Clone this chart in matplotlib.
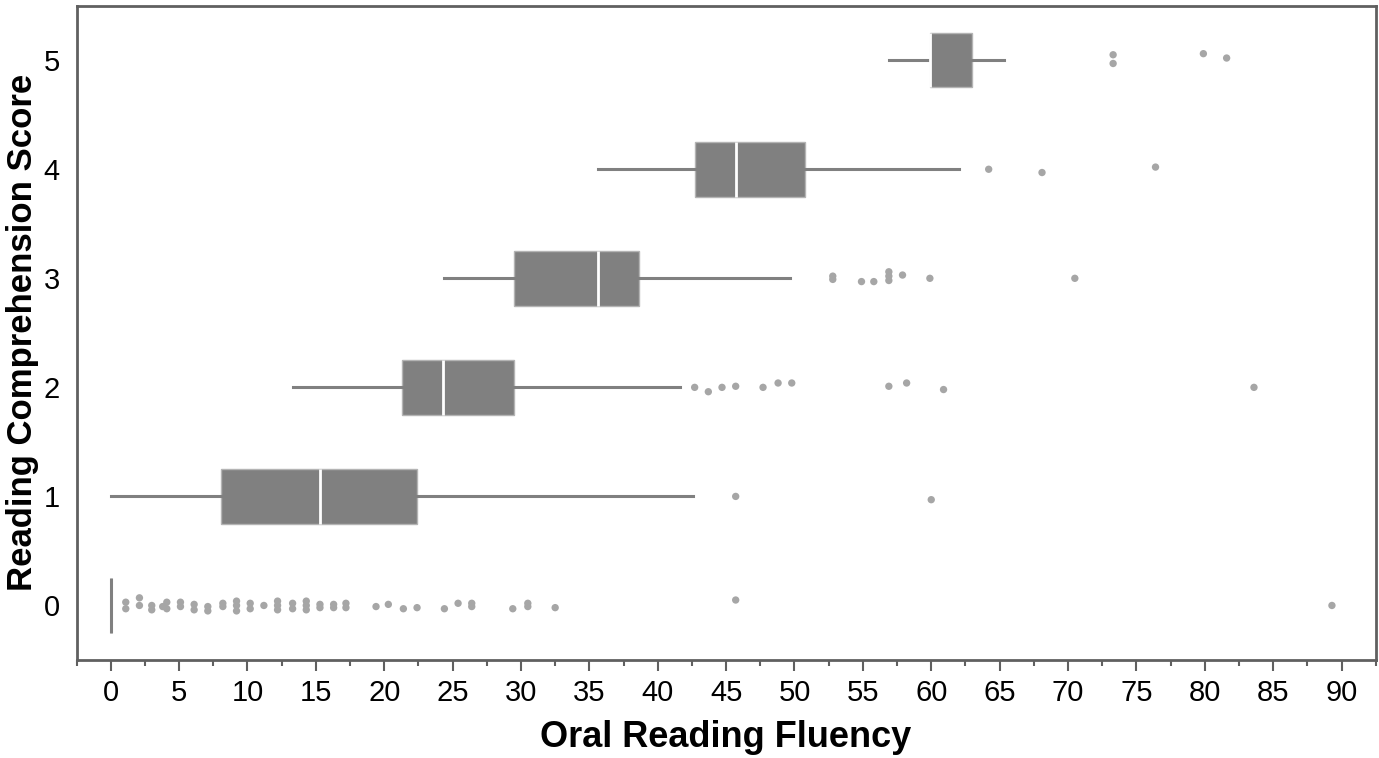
import matplotlib
matplotlib.use("Agg")
import matplotlib.pyplot as plt
from matplotlib.ticker import MultipleLocator

plt.rcParams['font.family'] = ['Liberation Sans', 'DejaVu Sans']

# box statistics per reading comprehension score (0..5)
scores = [0, 1, 2, 3, 4, 5]
whis_lo = [0.0, 0.0, 13.3, 24.4, 35.6, 56.9]
q1 = [0.0, 8.1, 21.3, 29.5, 42.7, 59.9]
median = [0.0, 15.3, 24.3, 35.6, 45.7, 59.9]
q3 = [0.0, 22.4, 29.5, 38.6, 50.8, 63.0]
whis_hi = [0.0, 42.6, 41.6, 49.7, 62.0, 65.3]

# outliers: fluency value and small vertical offset as seen in the picture
out0_x = [1.1, 1.1, 2.1, 2.1, 3.0, 3.0, 3.8, 4.1, 4.1, 5.1, 5.1, 6.1, 6.1, 7.1, 7.1,
          8.2, 8.2, 9.2, 9.2, 9.2, 10.2, 10.2, 11.2, 12.2, 12.2, 12.2, 13.3, 13.3,
          14.3, 14.3, 14.3, 15.3, 15.3, 16.3, 16.3, 17.2, 17.2,
          19.4, 20.3, 21.4, 22.4, 24.4, 25.4, 26.4, 26.4, 29.4, 30.5, 30.5, 32.5,
          45.7, 89.3]
out0_dy = [0.03, -0.03, 0.07, 0.0, 0.0, -0.04, -0.01, 0.03, -0.03, 0.03, -0.01,
           0.01, -0.04, -0.01, -0.05, 0.02, -0.01, 0.04, 0.0, -0.05, 0.02, -0.03,
           0.0, 0.04, 0.0, -0.04, 0.02, -0.03, 0.04, 0.0, -0.04, 0.01, -0.02,
           0.01, -0.02, 0.02, -0.02,
           -0.01, 0.01, -0.03, -0.02, -0.03, 0.02, 0.02, -0.01, -0.03, 0.02, -0.01,
           -0.02, 0.05, 0.0]
out1_x = [45.7, 60.0]
out1_dy = [0.0, -0.03]
out2_x = [42.7, 43.7, 44.7, 45.7, 47.7, 48.8, 49.8, 56.9, 58.2, 60.9, 83.6]
out2_dy = [0.0, -0.04, 0.0, 0.01, 0.0, 0.04, 0.04, 0.01, 0.04, -0.02, 0.0]
out3_x = [52.8, 52.8, 54.9, 55.8, 56.9, 56.9, 56.9, 57.9, 59.9, 70.5]
out3_dy = [0.02, -0.01, -0.03, -0.03, 0.06, 0.02, -0.02, 0.03, 0.0, 0.0]
out4_x = [64.2, 68.1, 76.4]
out4_dy = [0.0, -0.03, 0.02]
out5_x = [73.3, 73.3, 79.9, 81.6]
out5_dy = [0.05, -0.03, 0.06, 0.02]

out_x = [out0_x, out1_x, out2_x, out3_x, out4_x, out5_x]
out_dy = [out0_dy, out1_dy, out2_dy, out3_dy, out4_dy, out5_dy]

x_ticks = list(range(0, 91, 5))

fig = plt.figure(figsize=(13.79, 7.58), dpi=100)
ax = fig.add_axes([0.0555, 0.1293, 0.9421, 0.8632])

stats = []
for i in range(len(scores)):
    stats.append({'whislo': whis_lo[i], 'q1': q1[i], 'med': median[i],
                  'q3': q3[i], 'whishi': whis_hi[i], 'fliers': []})

ax.bxp(stats, positions=scores, vert=False, widths=0.5, patch_artist=True,
       showcaps=False, showfliers=False,
       boxprops=dict(facecolor='#808080', edgecolor='#b4b4b4', linewidth=1.0),
       whiskerprops=dict(color='#808080', linewidth=2.2),
       medianprops=dict(color='white', linewidth=2.0), zorder=3)

# zero-width box for score 0 shows as a vertical line
ax.vlines(0, -0.25, 0.25, color='#808080', linewidth=2.2, zorder=4)

for s, xs, dys in zip(scores, out_x, out_dy):
    ys = [s + d for d in dys]
    ax.scatter(xs, ys, s=28, color='#a6a6a6', edgecolors='none', zorder=2)

ax.set_xlim(-2.5, 92.5)
ax.set_ylim(-0.5, 5.5)
ax.set_xticks(x_ticks)
ax.xaxis.set_minor_locator(MultipleLocator(2.5))
ax.set_yticks(scores)
ax.tick_params(axis='x', which='major', length=8, width=1.5, color='#606060',
               labelsize=21, pad=6)
ax.tick_params(axis='x', which='minor', length=4, width=1.5, color='#606060')
ax.tick_params(axis='y', length=0, labelsize=21, pad=12)
for sp in ax.spines.values():
    sp.set_color('#606060')
    sp.set_linewidth(2.0)

ax.set_xlabel('Oral Reading Fluency', fontsize=26, fontweight='bold', labelpad=9)
ax.set_ylabel('Reading Comprehension Score', fontsize=25, fontweight='bold', labelpad=3)

fig.savefig('out.png', dpi=100)
